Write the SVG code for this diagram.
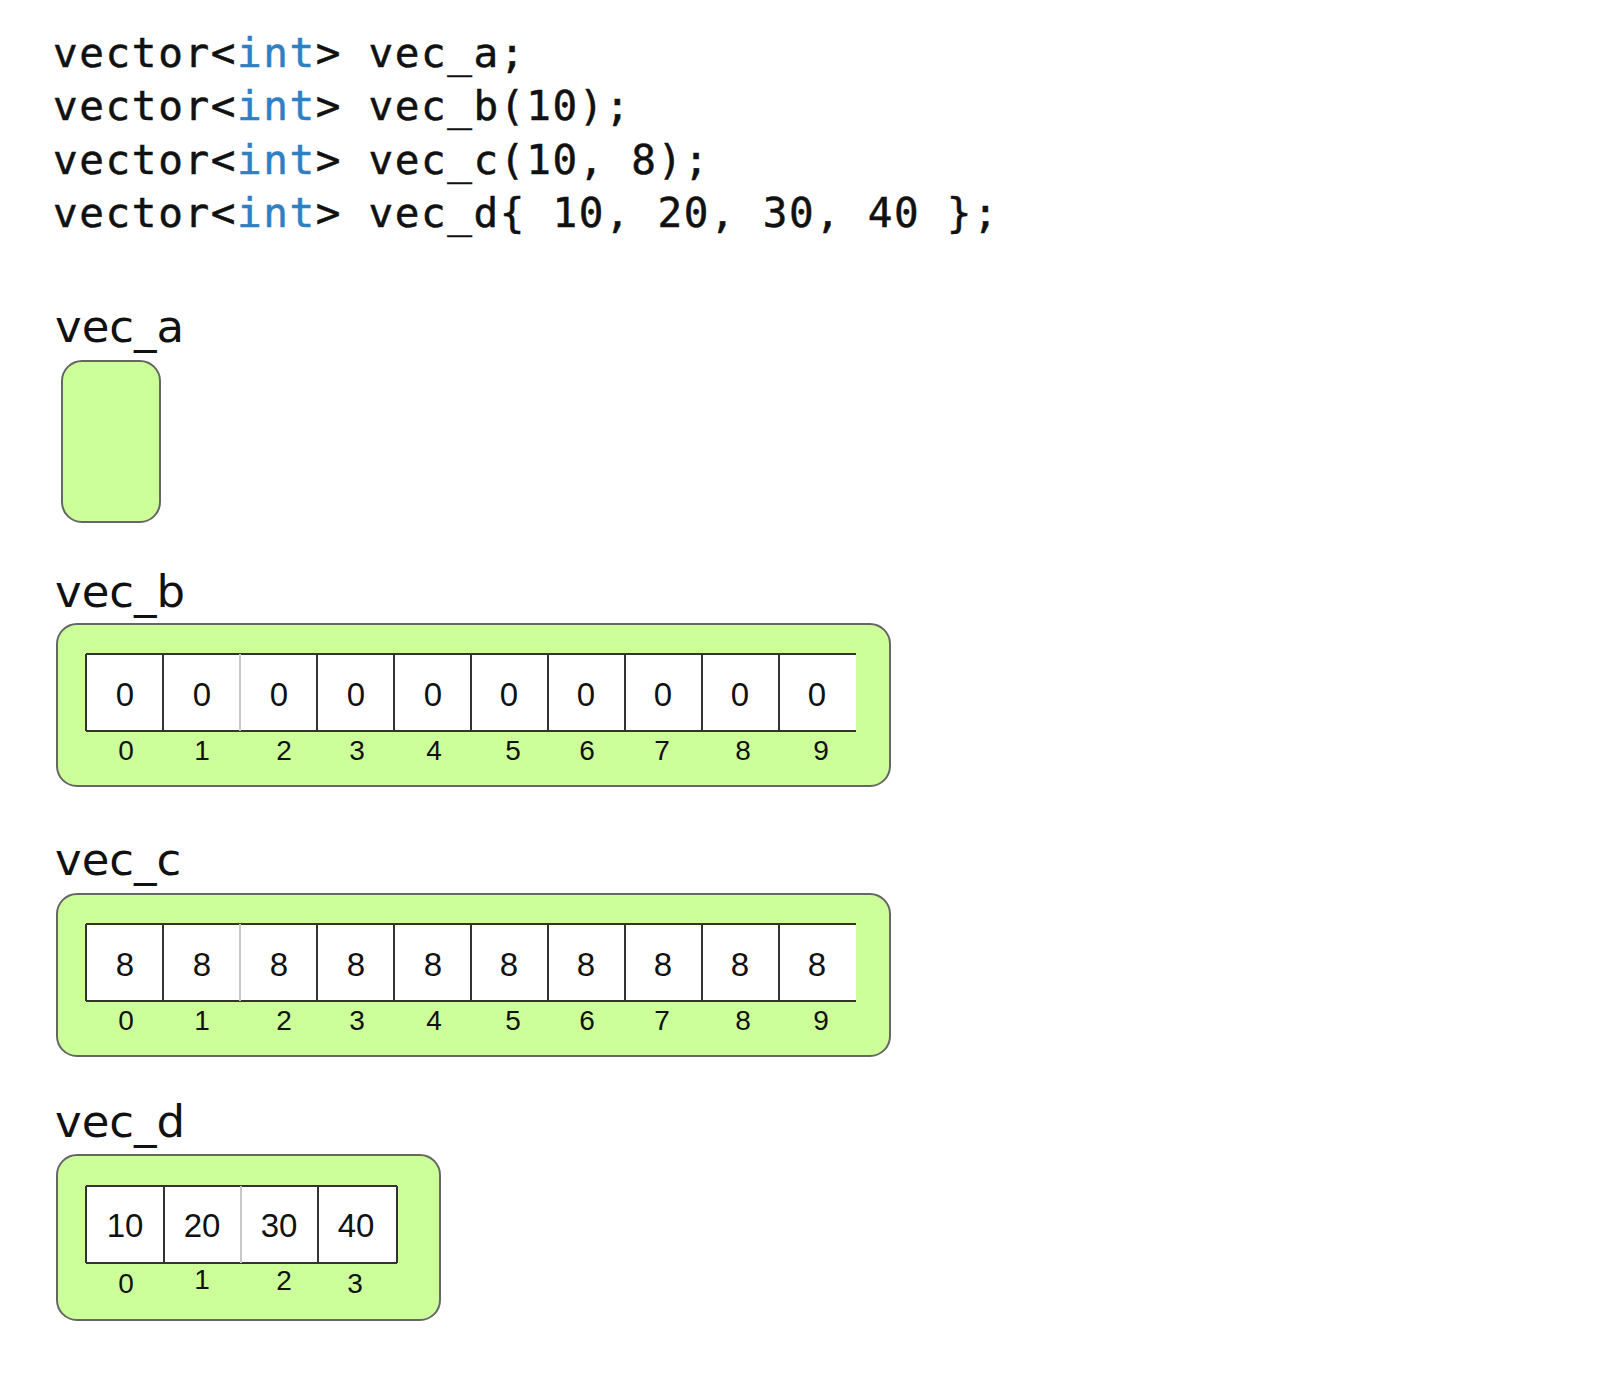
<svg xmlns="http://www.w3.org/2000/svg" width="1610" height="1380" viewBox="0 0 1610 1380">
<style>
.code{font-family:"DejaVu Sans Mono","Liberation Mono",monospace;font-size:41px;letter-spacing:1.6px;fill:#111;stroke:#111;stroke-width:0.5}
.kw{fill:#2f7fc4;stroke:#2f7fc4}
.lbl{font-family:"DejaVu Sans","Liberation Sans",sans-serif;font-size:45px;fill:#111}
.box{fill:#ccff99;stroke:#666;stroke-width:2}
.cells{fill:#fff}
.ln{stroke:#333;stroke-width:2}
.lt{stroke:#c8c8c8;stroke-width:2}
.val{font-family:"Liberation Sans",Arial,sans-serif;font-size:33px;fill:#111;text-anchor:middle}
.idx{font-family:"Liberation Sans",Arial,sans-serif;font-size:28px;fill:#111;text-anchor:middle}
</style>
<g id="code">
<text class="code" x="53" y="67">vector&lt;<tspan class="kw">int</tspan>&gt; vec_a;</text>
<text class="code" x="53" y="120">vector&lt;<tspan class="kw">int</tspan>&gt; vec_b(10);</text>
<text class="code" x="53" y="174">vector&lt;<tspan class="kw">int</tspan>&gt; vec_c(10, 8);</text>
<text class="code" x="53" y="227">vector&lt;<tspan class="kw">int</tspan>&gt; vec_d{ 10, 20, 30, 40 };</text>
</g>
<g id="vec_a">
<text class="lbl" x="55" y="342">vec_a</text>
<rect class="box" x="62" y="361" width="98" height="161" rx="20"/>
</g>
<g id="vec_b">
<text class="lbl" x="55" y="607">vec_b</text>
<rect class="box" x="57" y="624" width="833" height="162" rx="20"/>
<rect class="cells" x="86" y="654" width="770" height="77"/>
<line class="ln" x1="86" y1="654" x2="856" y2="654"/>
<line class="ln" x1="86" y1="731" x2="856" y2="731"/>
<line class="ln" x1="86" y1="654" x2="86" y2="731"/>
<line class="ln" x1="163" y1="654" x2="163" y2="731"/>
<line class="lt" x1="240" y1="654" x2="240" y2="731"/>
<line class="ln" x1="317" y1="654" x2="317" y2="731"/>
<line class="ln" x1="394" y1="654" x2="394" y2="731"/>
<line class="ln" x1="471" y1="654" x2="471" y2="731"/>
<line class="ln" x1="548" y1="654" x2="548" y2="731"/>
<line class="ln" x1="625" y1="654" x2="625" y2="731"/>
<line class="ln" x1="702" y1="654" x2="702" y2="731"/>
<line class="ln" x1="779" y1="654" x2="779" y2="731"/>
<text class="val" x="125" y="706">0</text>
<text class="val" x="202" y="706">0</text>
<text class="val" x="279" y="706">0</text>
<text class="val" x="356" y="706">0</text>
<text class="val" x="433" y="706">0</text>
<text class="val" x="509" y="706">0</text>
<text class="val" x="586" y="706">0</text>
<text class="val" x="663" y="706">0</text>
<text class="val" x="740" y="706">0</text>
<text class="val" x="817" y="706">0</text>
<text class="idx" x="126" y="760">0</text>
<text class="idx" x="202" y="760">1</text>
<text class="idx" x="284" y="760">2</text>
<text class="idx" x="357" y="760">3</text>
<text class="idx" x="434" y="760">4</text>
<text class="idx" x="513" y="760">5</text>
<text class="idx" x="587" y="760">6</text>
<text class="idx" x="662" y="760">7</text>
<text class="idx" x="743" y="760">8</text>
<text class="idx" x="821" y="760">9</text>
</g>
<g id="vec_c">
<text class="lbl" x="55" y="875">vec_c</text>
<rect class="box" x="57" y="894" width="833" height="162" rx="20"/>
<rect class="cells" x="86" y="924" width="770" height="77"/>
<line class="ln" x1="86" y1="924" x2="856" y2="924"/>
<line class="ln" x1="86" y1="1001" x2="856" y2="1001"/>
<line class="ln" x1="86" y1="924" x2="86" y2="1001"/>
<line class="ln" x1="163" y1="924" x2="163" y2="1001"/>
<line class="lt" x1="240" y1="924" x2="240" y2="1001"/>
<line class="ln" x1="317" y1="924" x2="317" y2="1001"/>
<line class="ln" x1="394" y1="924" x2="394" y2="1001"/>
<line class="ln" x1="471" y1="924" x2="471" y2="1001"/>
<line class="ln" x1="548" y1="924" x2="548" y2="1001"/>
<line class="ln" x1="625" y1="924" x2="625" y2="1001"/>
<line class="ln" x1="702" y1="924" x2="702" y2="1001"/>
<line class="ln" x1="779" y1="924" x2="779" y2="1001"/>
<text class="val" x="125" y="976">8</text>
<text class="val" x="202" y="976">8</text>
<text class="val" x="279" y="976">8</text>
<text class="val" x="356" y="976">8</text>
<text class="val" x="433" y="976">8</text>
<text class="val" x="509" y="976">8</text>
<text class="val" x="586" y="976">8</text>
<text class="val" x="663" y="976">8</text>
<text class="val" x="740" y="976">8</text>
<text class="val" x="817" y="976">8</text>
<text class="idx" x="126" y="1030">0</text>
<text class="idx" x="202" y="1030">1</text>
<text class="idx" x="284" y="1030">2</text>
<text class="idx" x="357" y="1030">3</text>
<text class="idx" x="434" y="1030">4</text>
<text class="idx" x="513" y="1030">5</text>
<text class="idx" x="587" y="1030">6</text>
<text class="idx" x="662" y="1030">7</text>
<text class="idx" x="743" y="1030">8</text>
<text class="idx" x="821" y="1030">9</text>
</g>
<g id="vec_d">
<text class="lbl" x="55" y="1137">vec_d</text>
<rect class="box" x="57" y="1155" width="383" height="165" rx="20"/>
<rect class="cells" x="86" y="1186" width="311" height="77"/>
<line class="ln" x1="86" y1="1186" x2="397" y2="1186"/>
<line class="ln" x1="86" y1="1263" x2="397" y2="1263"/>
<line class="ln" x1="86" y1="1186" x2="86" y2="1263"/>
<line class="ln" x1="164" y1="1186" x2="164" y2="1263"/>
<line class="lt" x1="241" y1="1186" x2="241" y2="1263"/>
<line class="ln" x1="318" y1="1186" x2="318" y2="1263"/>
<line class="ln" x1="397" y1="1186" x2="397" y2="1263"/>
<text class="val" x="125" y="1237">10</text>
<text class="val" x="202" y="1237">20</text>
<text class="val" x="279" y="1237">30</text>
<text class="val" x="356" y="1237">40</text>
<text class="idx" x="126" y="1293">0</text>
<text class="idx" x="202" y="1289">1</text>
<text class="idx" x="284" y="1290">2</text>
<text class="idx" x="355" y="1293">3</text>
</g>
<g id="connectors"/>
</svg>
